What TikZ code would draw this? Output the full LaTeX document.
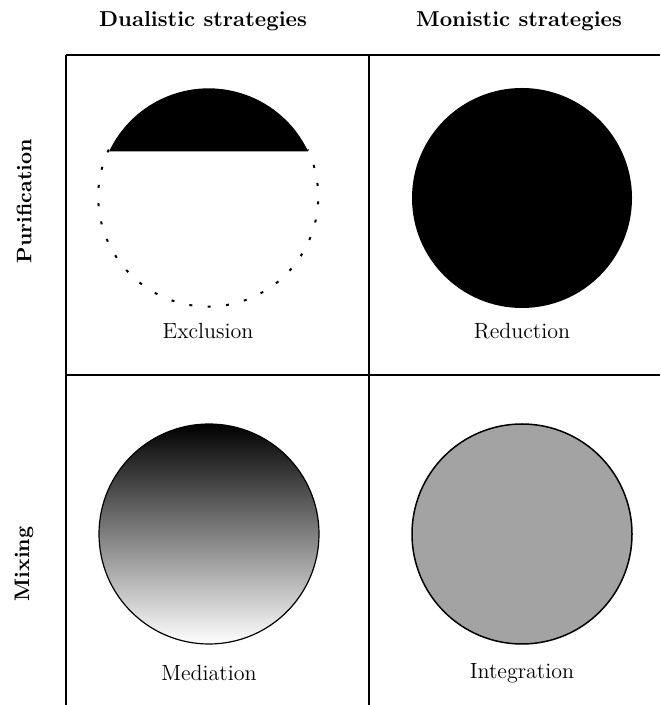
\documentclass[tikz,border=0pt]{standalone}
\usepackage{tikz}
\usetikzlibrary{positioning}

\begin{document}
\begin{tikzpicture}[x=0.5pt,y=0.5pt]

% Styles
\tikzstyle{disk}	=	[circle, minimum size=110pt, inner sep=0pt]
\tikzstyle{caption}	=	[font=\fontsize{11}{13}\selectfont]
\tikzstyle{head}	=	[font=\fontsize{10.8}{13}\selectfont\bfseries, anchor=base]
\tikzstyle{side}	=	[font=\fontsize{10.5}{12}\selectfont\bfseries, rotate=90]
\tikzstyle{grid}	=	[line width=0.65pt]

	\useasboundingbox (0,0) rectangle (660,705);

	% Rutenett
	\draw[grid] (66,650) -- (660,650); % Topp
	\draw[grid] (66,330) -- (660,330); % Midten
	\draw[grid] (66,650) -- (66,0); % Venstre
	\draw[grid] (369,650) -- (369,0); % Midten

	% Overskrifter
	\node[head] (dual_head) at (203,678) {Dualistic strategies};
	\node[head] (mono_head) at (519,678) {Monistic strategies};
	\node[side] (pure_side) at (24,504) {Purification};
	\node[side] (mix_side) at (24,141) {Mixing};

	% Exclusion
	\node[disk] (exclusion) at (208,507) {};
	\fill[black] (exclusion.25.3) arc[start angle=25.3, end angle=154.7, radius=55pt] -- cycle; % Toppsegment
	\draw[line width=1pt, dash pattern=on 1.5pt off 7.7pt] (exclusion.154.7) arc[start angle=154.7, end angle=385.3, radius=55pt]; % Prikket
	\node[caption] (exclusion_text) [below of=exclusion, node distance=66.5pt] {Exclusion};

	% Reduction
	\node[disk, fill=black] (reduction) at (522,507) {};
	\node[caption] (reduction_text) [below of=reduction, node distance=66.5pt] {Reduction};

	% Mediation
	\node[disk, draw, line width=0.6pt, top color=black, middle color=black!60, bottom color=white] (mediation) at (209,171) {};
	\node[caption] (mediation_text) [below of=mediation, node distance=69.5pt] {Mediation};

	% Integration
	\node[disk, draw, line width=0.75pt, fill=black!36] (integration) at (522,171) {};
	\node[caption] (integration_text) [below of=integration, node distance=69.5pt] {Integration};

\end{tikzpicture}
\end{document}
